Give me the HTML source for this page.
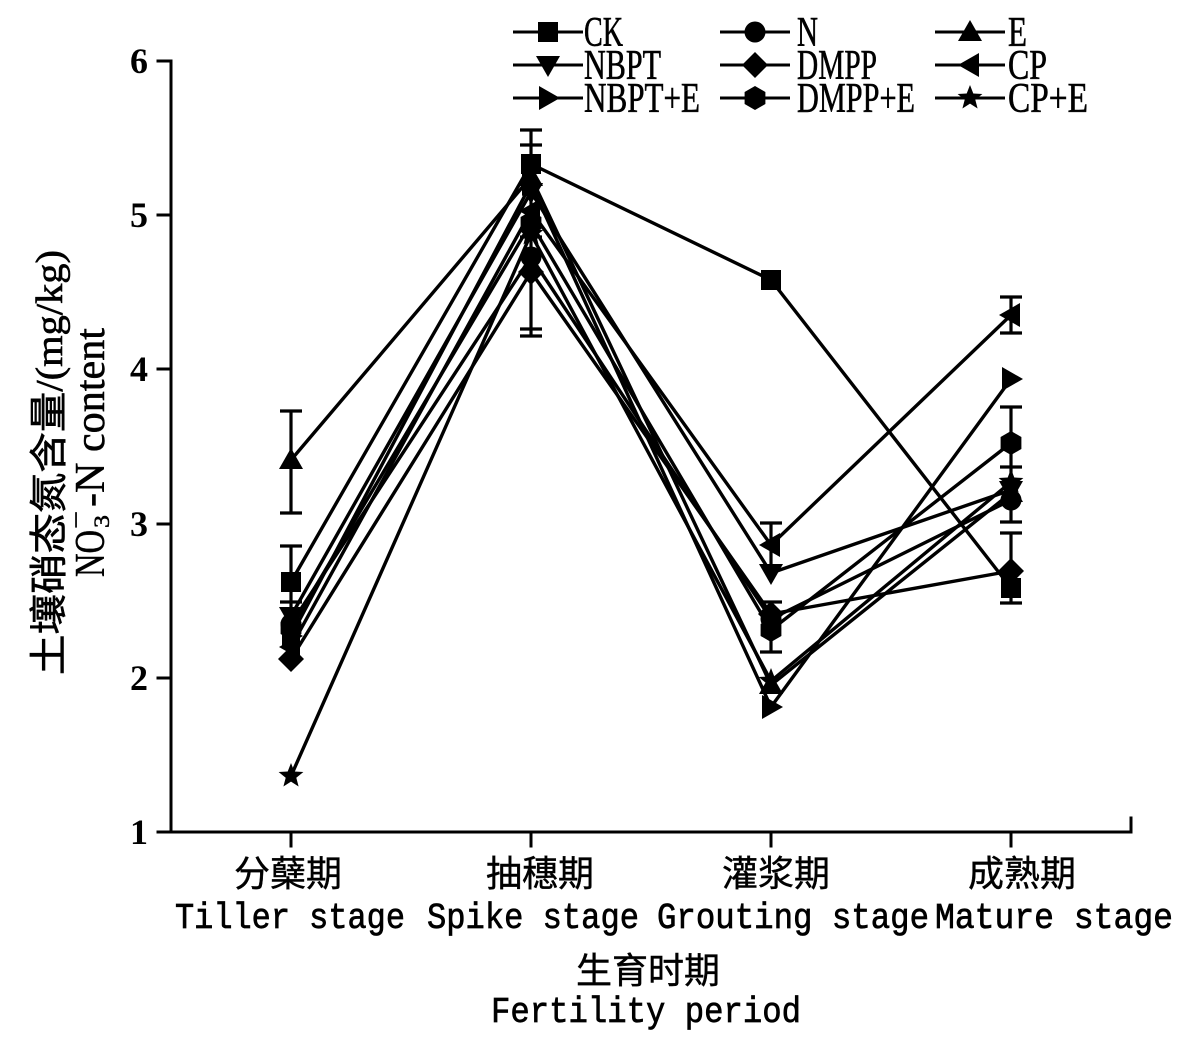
<!DOCTYPE html>
<html>
<head>
<meta charset="utf-8">
<style>
  html,body{margin:0;padding:0;background:#fff;}
  svg{display:block;}
</style>
</head>
<body>
<svg width="1191" height="1041" viewBox="0 0 1191 1041" xmlns="http://www.w3.org/2000/svg">
  <defs>
    <path id="m-sq" d="M-10,-10h20v20h-20z"/>
    <circle id="m-ci" cx="0" cy="0" r="10.5"/>
    <path id="m-tu" d="M0,-12L12,9L-12,9Z"/>
    <path id="m-td" d="M0,12L12,-9L-12,-9Z"/>
    <path id="m-di" d="M0,-13L13,0L0,13L-13,0Z"/>
    <path id="m-tl" d="M-12,0L9,-12L9,12Z"/>
    <path id="m-tr" d="M12,0L-9,-12L-9,12Z"/>
    <path id="m-hx" d="M0,-12L10.4,-6L10.4,6L0,12L-10.4,6L-10.4,-6Z"/>
    <path id="m-st" d="M0,-13L3.3,-4.5L12.4,-4L5.3,1.7L7.6,10.5L0,5.6L-7.6,10.5L-5.3,1.7L-12.4,-4L-3.3,-4.5Z"/>
  </defs>

  <!-- Axes -->
  <g stroke="#000" stroke-width="3" fill="none" stroke-linecap="square">
    <line x1="171" y1="61" x2="171" y2="832"/>
    <line x1="171" y1="832" x2="1131" y2="832"/>
    <line x1="1131" y1="832" x2="1131" y2="818"/>
    <line x1="158" y1="61" x2="171" y2="61"/>
    <line x1="158" y1="215" x2="171" y2="215"/>
    <line x1="158" y1="369" x2="171" y2="369"/>
    <line x1="158" y1="524" x2="171" y2="524"/>
    <line x1="158" y1="678" x2="171" y2="678"/>
    <line x1="158" y1="832" x2="171" y2="832"/>
    <line x1="291" y1="832" x2="291" y2="846"/>
    <line x1="531" y1="832" x2="531" y2="846"/>
    <line x1="771" y1="832" x2="771" y2="846"/>
    <line x1="1011" y1="832" x2="1011" y2="846"/>
  </g>

  <!-- y tick labels -->
  <g font-family="Liberation Serif, serif" font-weight="bold" font-size="36" text-anchor="end" fill="#000">
    <text x="148" y="73">6</text>
    <text x="148" y="227">5</text>
    <text x="148" y="381">4</text>
    <text x="148" y="536">3</text>
    <text x="148" y="690">2</text>
    <text x="148" y="844">1</text>
  </g>

  <!-- y axis title -->
  <g transform="translate(62,675) rotate(-90)">
    <text x="0" y="0" font-family="Liberation Serif, 'Noto Sans CJK SC', sans-serif" font-size="38" textLength="425" lengthAdjust="spacingAndGlyphs" fill="#000" stroke="#000" stroke-width="0.6">土壤硝态氮含量/(mg/kg)</text>
  </g>
  <g transform="translate(104,577) rotate(-90)" font-family="Liberation Serif, serif" fill="#000" stroke="#000" stroke-width="0.5">
    <text x="0" y="0" font-size="42" textLength="47" lengthAdjust="spacingAndGlyphs">NO</text>
    <text x="49" y="5" font-size="22" textLength="13" lengthAdjust="spacingAndGlyphs">3</text>
    <text x="48" y="-20" font-size="24" textLength="18" lengthAdjust="spacingAndGlyphs">−</text>
    <text x="70" y="0" font-size="42" textLength="179" lengthAdjust="spacingAndGlyphs">-N content</text>
  </g>

  <!-- x category labels -->
  <g font-family="'Noto Sans CJK SC', sans-serif" font-size="36" text-anchor="middle" fill="#000" stroke="#000" stroke-width="0.4">
    <text x="288" y="886">分蘖期</text>
    <text x="540" y="886">抽穗期</text>
    <text x="776" y="886">灌浆期</text>
    <text x="1022" y="886">成熟期</text>
    <text x="648" y="983">生育时期</text>
  </g>
  <g font-family="'Liberation Mono', monospace" font-size="36" fill="#000" stroke="#000" stroke-width="0.7">
    <text x="175" y="928" textLength="230" lengthAdjust="spacingAndGlyphs">Tiller stage</text>
    <text x="427" y="928" textLength="212" lengthAdjust="spacingAndGlyphs">Spike stage</text>
    <text x="657" y="928" textLength="272" lengthAdjust="spacingAndGlyphs">Grouting stage</text>
    <text x="935" y="928" textLength="238" lengthAdjust="spacingAndGlyphs">Mature stage</text>
    <text x="491" y="1022" textLength="310" lengthAdjust="spacingAndGlyphs">Fertility period</text>
  </g>

  <!-- Error bars -->
  <g stroke="#000" stroke-width="3.2" fill="none">
    <line x1="291" y1="411" x2="291" y2="513"/>
    <line x1="280" y1="411" x2="302" y2="411"/>
    <line x1="280" y1="513" x2="302" y2="513"/>
    <line x1="291" y1="546" x2="291" y2="620"/>
    <line x1="280" y1="546" x2="302" y2="546"/>
    <line x1="280" y1="602" x2="302" y2="602"/>
    <line x1="531" y1="130" x2="531" y2="336"/>
    <line x1="520" y1="130" x2="542" y2="130"/>
    <line x1="520" y1="145" x2="542" y2="145"/>
    <line x1="520" y1="237" x2="542" y2="237"/>
    <line x1="520" y1="329" x2="542" y2="329"/>
    <line x1="520" y1="336" x2="542" y2="336"/>
    <line x1="771" y1="523" x2="771" y2="567"/>
    <line x1="760" y1="523" x2="782" y2="523"/>
    <line x1="771" y1="602" x2="771" y2="652"/>
    <line x1="760" y1="602" x2="782" y2="602"/>
    <line x1="760" y1="652" x2="782" y2="652"/>
    <line x1="1011" y1="297" x2="1011" y2="333"/>
    <line x1="1000" y1="297" x2="1022" y2="297"/>
    <line x1="1000" y1="333" x2="1022" y2="333"/>
    <line x1="1011" y1="407" x2="1011" y2="522"/>
    <line x1="1000" y1="407" x2="1022" y2="407"/>
    <line x1="1000" y1="467" x2="1022" y2="467"/>
    <line x1="1000" y1="522" x2="1022" y2="522"/>
    <line x1="1011" y1="533" x2="1011" y2="603"/>
    <line x1="1000" y1="533" x2="1022" y2="533"/>
    <line x1="1000" y1="603" x2="1022" y2="603"/>
  </g>

  <!-- Series lines -->
  <g stroke="#000" stroke-width="3.4" fill="none" stroke-linejoin="round">
    <polyline points="291,582 531,164 771,280 1011,588"/>
    <polyline points="291,624 531,257 771,619 1011,500"/>
    <polyline points="291,460 531,177 771,685 1011,493"/>
    <polyline points="291,616 531,192 771,573 1011,490"/>
    <polyline points="291,659 531,272 771,614 1011,571"/>
    <polyline points="291,647 531,211 771,545 1011,315"/>
    <polyline points="291,636 531,184 771,707 1011,379"/>
    <polyline points="291,628 531,223 771,630 1011,443"/>
    <polyline points="291,776 531,234 771,681 1011,482"/>
  </g>

  <!-- Markers -->
  <g fill="#000">
    <use href="#m-sq" x="291" y="582"/><use href="#m-sq" x="531" y="164"/><use href="#m-sq" x="771" y="280"/><use href="#m-sq" x="1011" y="588"/>
    <use href="#m-ci" x="291" y="624"/><use href="#m-ci" x="531" y="257"/><use href="#m-ci" x="771" y="619"/><use href="#m-ci" x="1011" y="500"/>
    <use href="#m-tu" x="291" y="460"/><use href="#m-tu" x="531" y="177"/><use href="#m-tu" x="771" y="685"/><use href="#m-tu" x="1011" y="493"/>
    <use href="#m-td" x="291" y="616"/><use href="#m-td" x="531" y="192"/><use href="#m-td" x="771" y="573"/><use href="#m-td" x="1011" y="490"/>
    <use href="#m-di" x="291" y="659"/><use href="#m-di" x="531" y="272"/><use href="#m-di" x="771" y="614"/><use href="#m-di" x="1011" y="571"/>
    <use href="#m-tl" x="291" y="647"/><use href="#m-tl" x="531" y="211"/><use href="#m-tl" x="771" y="545"/><use href="#m-tl" x="1011" y="315"/>
    <use href="#m-tr" x="291" y="636"/><use href="#m-tr" x="531" y="184"/><use href="#m-tr" x="771" y="707"/><use href="#m-tr" x="1011" y="379"/>
    <use href="#m-hx" x="291" y="628"/><use href="#m-hx" x="531" y="223"/><use href="#m-hx" x="771" y="630"/><use href="#m-hx" x="1011" y="443"/>
    <use href="#m-st" x="291" y="776"/><use href="#m-st" x="531" y="234"/><use href="#m-st" x="771" y="681"/><use href="#m-st" x="1011" y="482"/>
  </g>

  <!-- Legend -->
  <g stroke="#000" stroke-width="3">
    <line x1="513" y1="32" x2="583" y2="32"/>
    <line x1="720" y1="32" x2="790" y2="32"/>
    <line x1="935" y1="32" x2="1005" y2="32"/>
    <line x1="513" y1="65" x2="583" y2="65"/>
    <line x1="720" y1="65" x2="790" y2="65"/>
    <line x1="935" y1="65" x2="1005" y2="65"/>
    <line x1="513" y1="98" x2="583" y2="98"/>
    <line x1="720" y1="98" x2="790" y2="98"/>
    <line x1="935" y1="98" x2="1005" y2="98"/>
  </g>
  <g fill="#000">
    <use href="#m-sq" x="548" y="32"/>
    <use href="#m-ci" x="755" y="32"/>
    <use href="#m-tu" x="970" y="32"/>
    <use href="#m-td" x="548" y="65"/>
    <use href="#m-di" x="755" y="65"/>
    <use href="#m-tl" x="970" y="65"/>
    <use href="#m-tr" x="548" y="98"/>
    <use href="#m-hx" x="755" y="98"/>
    <use href="#m-st" x="970" y="98"/>
  </g>
  <g font-family="Liberation Serif, serif" font-size="42" fill="#000" stroke="#000" stroke-width="0.6">
    <text x="584" y="46" textLength="39" lengthAdjust="spacingAndGlyphs">CK</text>
    <text x="797" y="46" textLength="21" lengthAdjust="spacingAndGlyphs">N</text>
    <text x="1008" y="46" textLength="19" lengthAdjust="spacingAndGlyphs">E</text>
    <text x="584" y="79" textLength="77" lengthAdjust="spacingAndGlyphs">NBPT</text>
    <text x="797" y="79" textLength="80" lengthAdjust="spacingAndGlyphs">DMPP</text>
    <text x="1008" y="79" textLength="39" lengthAdjust="spacingAndGlyphs">CP</text>
    <text x="584" y="112" textLength="116" lengthAdjust="spacingAndGlyphs">NBPT+E</text>
    <text x="797" y="112" textLength="118" lengthAdjust="spacingAndGlyphs">DMPP+E</text>
    <text x="1008" y="112" textLength="80" lengthAdjust="spacingAndGlyphs">CP+E</text>
  </g>
</svg>
</body>
</html>
